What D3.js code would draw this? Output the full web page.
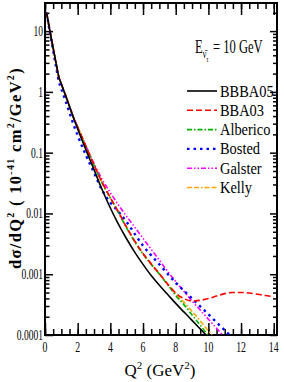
<!DOCTYPE html>
<html>
<head>
<meta charset="utf-8">
<script src="https://cdn.jsdelivr.net/npm/d3@7/dist/d3.min.js"></script>
<style>
  body { margin: 0; background: #fff; }
  text { font-family: "Liberation Serif", "Times New Roman", serif; }
</style>
</head>
<body>
<div id="chart"></div>
<script>
// Q^2 grid (GeV^2) shared by all curves
var q2 = [0.1, 0.3, 0.5, 0.7, 0.85, 1, 1.25, 1.5, 1.75, 2, 2.5, 3, 3.5, 4, 4.5, 5, 5.5, 6,
          6.5, 7, 7.5, 8, 8.5, 9, 9.5, 10, 10.5, 11, 11.5, 12, 12.5, 13, 13.5, 14];

// dsigma/dQ^2 in 10^-41 cm^2/GeV^2
var bbba05 = [20, 10, 5.25, 2.75, 1.74, 1.35, 0.891, 0.575, 0.372, 0.245, 0.112, 0.0525, 0.0245,
              0.0123, 0.0066, 0.0038, 0.00229, 0.00145, 0.00095, 0.00066, 0.000468, 0.000331,
              0.00024, 0.000174, 0.000126, 0.0000912];
var bba03 = [20, 10, 5.25, 2.75, 1.74, 1.35, 0.891, 0.575, 0.372, 0.263, 0.129, 0.0631, 0.0324,
             0.0182, 0.0105, 0.00589, 0.00347, 0.00219, 0.00148, 0.00102, 0.000692, 0.00049,
             0.000398, 0.000363, 0.000372, 0.000398, 0.000437, 0.000479, 0.000501, 0.000501,
             0.00049, 0.000468, 0.000447, 0.000427];
var alberico = [20, 10, 5.25, 2.75, 1.74, 1.35, 0.891, 0.575, 0.372, 0.263, 0.126, 0.0617, 0.0316,
                0.0178, 0.0102, 0.00575, 0.00339, 0.00214, 0.00145, 0.001, 0.000676, 0.000447,
                0.000316, 0.000214, 0.000145, 0.0000977];
var bosted = [20, 9.55, 4.79, 2.40, 1.48, 1.12, 0.724, 0.457, 0.288, 0.191, 0.0912, 0.0468, 0.024,
              0.0151, 0.0107, 0.00724, 0.00457, 0.00295, 0.00204, 0.00145, 0.00102, 0.000724,
              0.000537, 0.000398, 0.000295, 0.000219, 0.000162, 0.00012, 0.0000891];
var galster = [20, 10, 5.25, 2.75, 1.74, 1.35, 0.891, 0.575, 0.389, 0.263, 0.129, 0.0661, 0.0363,
               0.0219, 0.0138, 0.00891, 0.00589, 0.00389, 0.00257, 0.0017, 0.00112, 0.000759,
               0.000525, 0.000363, 0.000257, 0.000182, 0.000129, 0.0000912];
var kelly = [20, 10, 5.25, 2.75, 1.74, 1.35, 0.891, 0.575, 0.372, 0.263, 0.129, 0.0631, 0.0324,
             0.0182, 0.0105, 0.00589, 0.00347, 0.00219, 0.00148, 0.00102, 0.000692, 0.000479,
             0.000347, 0.000245, 0.00017, 0.000117, 0.0000794];

var seriesNames = ["BBBA05", "BBA03", "Alberico", "Bosted", "Galster", "Kelly"];
var seriesColors = ["#000000", "#ff0000", "#00b000", "#0000ff", "#ff00ff", "#ffa500"];
var seriesDash = ["none", "6,3", "5,2,1.5,2", "2.5,4", "5,2,1.5,2,1.5,2", "5,2,5,2,1.5,2"];

var xTicks = [0, 2, 4, 6, 8, 10, 12, 14];
var yTicks = [0.0001, 0.001, 0.01, 0.1, 1, 10];
var yTickLabels = ["0.0001", "0.001", "0.01", "0.1", "1", "10"];

var allSeries = [bbba05, bba03, alberico, bosted, galster, kelly];

var W = 284, H = 382;
var margin = {top: 3, right: 7, bottom: 47, left: 45};

var svg = d3.select("#chart").append("svg")
    .attr("width", W)
    .attr("height", H);

var x = d3.scaleLinear().domain([0, 14.2]).range([margin.left, W - margin.right]);
var y = d3.scaleLog().domain([0.0001, 29]).range([H - margin.bottom, margin.top]);

svg.append("clipPath").attr("id", "plotclip")
  .append("rect")
    .attr("x", x(0)).attr("y", y(29))
    .attr("width", x(14.2) - x(0)).attr("height", y(0.0001) - y(29));

// minor ticks
var xMinor = d3.range(0, 14.01, 0.5);
var yMinor = [];
yTicks.forEach(function(t) { for (var k = 2; k <= 9; k++) if (t * k < 29) yMinor.push(t * k); });

function noLabel() { return ""; }

svg.append("g").attr("transform", "translate(0," + y(0.0001) + ")")
    .call(d3.axisBottom(x).tickValues(xMinor).tickSize(-6).tickFormat(noLabel));
svg.append("g").attr("transform", "translate(0," + y(0.0001) + ")")
    .call(d3.axisBottom(x).tickValues(xTicks).tickSize(-12).tickFormat(noLabel));
svg.append("g").attr("transform", "translate(0," + y(29) + ")")
    .call(d3.axisTop(x).tickValues(xMinor).tickSize(-6).tickFormat(noLabel));
svg.append("g").attr("transform", "translate(0," + y(29) + ")")
    .call(d3.axisTop(x).tickValues(xTicks).tickSize(-12).tickFormat(noLabel));

svg.append("g").attr("transform", "translate(" + x(0) + ",0)")
    .call(d3.axisLeft(y).tickValues(yMinor).tickSize(-4.5).tickFormat(noLabel));
svg.append("g").attr("transform", "translate(" + x(0) + ",0)")
    .call(d3.axisLeft(y).tickValues(yTicks).tickSize(-8).tickFormat(noLabel));
svg.append("g").attr("transform", "translate(" + x(14.2) + ",0)")
    .call(d3.axisRight(y).tickValues(yMinor).tickSize(-4).tickFormat(noLabel));
svg.append("g").attr("transform", "translate(" + x(14.2) + ",0)")
    .call(d3.axisRight(y).tickValues(yTicks).tickSize(-7).tickFormat(noLabel));

svg.selectAll(".domain").remove();
svg.selectAll(".tick line").attr("stroke", "#000").attr("stroke-width", 1.5);

// frame
svg.append("rect")
    .attr("x", x(0)).attr("y", y(29))
    .attr("width", x(14.2) - x(0)).attr("height", y(0.0001) - y(29))
    .attr("fill", "none").attr("stroke", "#000").attr("stroke-width", 2);

// tick labels (condensed serif like the original)
svg.selectAll(".xlab").data(xTicks).enter().append("text")
    .attr("transform", function(d) { return "translate(" + x(d) + "," + (y(0.0001) + 17) + ") scale(0.7,1)"; })
    .attr("text-anchor", "middle")
    .attr("font-size", 14)
    .text(function(d) { return d; });

svg.selectAll(".ylab").data(yTicks).enter().append("text")
    .attr("transform", function(d) { return "translate(" + (x(0) - 2) + "," + (y(d) + 5) + ") scale(0.68,1)"; })
    .attr("text-anchor", "end")
    .attr("font-size", 14)
    .text(function(d, i) { return yTickLabels[i]; });

// curves
var line = d3.line()
    .x(function(d) { return x(d[0]); })
    .y(function(d) { return y(d[1]); })
    .curve(d3.curveMonotoneX);

var drawOrder = [5, 4, 3, 2, 1, 0];
var plot = svg.append("g").attr("clip-path", "url(#plotclip)");
drawOrder.forEach(function(i) {
  var pts = allSeries[i].map(function(v, j) { return [q2[j], v]; });
  plot.append("path")
      .attr("d", line(pts))
      .attr("fill", "none")
      .attr("stroke", seriesColors[i])
      .attr("stroke-width", i === 3 ? 2.4 : 1.6)
      .attr("stroke-dasharray", seriesDash[i]);
});

// legend
var lg = svg.append("g");
seriesNames.forEach(function(name, i) {
  var ly = 91 + i * 19.3;
  lg.append("line")
      .attr("x1", 187).attr("x2", 217).attr("y1", ly).attr("y2", ly)
      .attr("stroke", seriesColors[i])
      .attr("stroke-width", i === 3 ? 2.4 : 1.6)
      .attr("stroke-dasharray", seriesDash[i]);
  lg.append("text")
      .attr("transform", "translate(220," + (ly + 5.5) + ") scale(0.9,1)")
      .attr("font-size", 16)
      .text(name);
});

// energy annotation
var ann = svg.append("text")
    .attr("transform", "translate(195,53) scale(0.66,1)")
    .attr("font-size", 19);
ann.append("tspan").text("E");
ann.append("tspan").attr("font-size", 12).attr("dy", 5).text("\u03bd\u0304");
ann.append("tspan").attr("font-size", 9).attr("dy", 4).text("\u03c4");
ann.append("tspan").attr("dy", -9).attr("dx", 2).text(" = 10 GeV");

// axis titles
var xt = svg.append("text")
    .attr("x", 160).attr("y", 376)
    .attr("text-anchor", "middle")
    .attr("font-size", 17);
xt.append("tspan").text("Q");
xt.append("tspan").attr("font-size", 11).attr("dy", -7).text("2");
xt.append("tspan").attr("dy", 7).text(" (GeV");
xt.append("tspan").attr("font-size", 11).attr("dy", -7).text("2");
xt.append("tspan").attr("dy", 7).text(")");

var yt = svg.append("text")
    .attr("transform", "translate(21,168) rotate(-90)")
    .attr("text-anchor", "middle")
    .attr("font-size", 16.5)
    .attr("font-weight", "bold")
    .attr("letter-spacing", 1.3);
yt.append("tspan").text("d\u03c3/dQ");
yt.append("tspan").attr("font-size", 10).attr("dy", -7).text("2");
yt.append("tspan").attr("dy", 7).text(" ( 10");
yt.append("tspan").attr("font-size", 10).attr("dy", -7).text("-41");
yt.append("tspan").attr("dy", 7).text(" cm");
yt.append("tspan").attr("font-size", 10).attr("dy", -7).text("2");
yt.append("tspan").attr("dy", 7).text("/GeV");
yt.append("tspan").attr("font-size", 10).attr("dy", -7).text("2");
yt.append("tspan").attr("dy", 7).text(")");
</script>
</body>
</html>
